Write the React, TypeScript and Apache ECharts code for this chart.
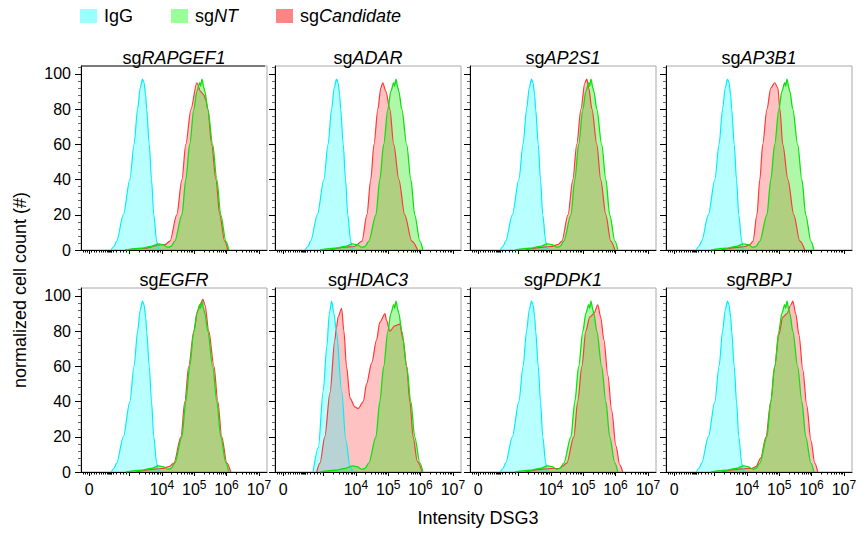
import React, { useEffect, useRef } from 'react';
import * as echarts from 'echarts';

const FONT = '"Liberation Sans", Arial, Helvetica, sans-serif';

// ---- text ----
const legendNames = ['IgG', 'sgNT', 'sgCandidate'];
const panelGenes = ['RAPGEF1', 'ADAR', 'AP2S1', 'AP3B1', 'EGFR', 'HDAC3', 'PDPK1', 'RBPJ'];
const yAxisName = 'normalized cell count (#)';
const xAxisName = 'Intensity DSG3';

// ---- axes (x in display units of the biexponential scale: 0 -> 1.75, 10^k -> k) ----
const xMin = 1.5;
const xMax = 7.25;
const xLabelValues = [1.75, 4, 5, 6, 7];
const xLabelTexts = ['0', '4', '5', '6', '7'];
const xMajorTicks = [1.75, 3, 4, 5, 6, 7];
const xLowTicks = [1.56, 1.63, 1.69, 1.82, 1.9, 1.98, 2.06, 2.13, 2.2, 2.26, 2.3, 2.33, 2.36, 2.39, 2.42, 2.45, 2.5, 2.6, 2.7, 2.8, 2.9];
const yTickValues = [0, 20, 40, 60, 80, 100];
const yMax = 104.5;

// ---- data: [display x, normalized count] ----
const iggShared = [[2.43,0],[2.52,2],[2.60,5],[2.81,20],[3.01,40],[3.14,60],[3.25,80],[3.33,92],[3.40,97],[3.45,95],[3.50,88],[3.53,80],[3.61,60],[3.68,40],[3.75,20],[3.84,5],[3.88,2],[3.92,0]];
const iggHDAC3 = [[2.68,0],[2.84,14],[2.99,46],[3.10,71],[3.18,90],[3.25,97],[3.32,90],[3.40,80],[3.56,46],[3.69,18],[3.82,3],[3.91,0]];
const sgNT = [[2.89,0],[3.35,1],[3.66,2],[3.91,3.5],[4.03,3],[4.19,1.5],[4.28,2],[4.40,5],[4.62,20],[4.74,40],[4.86,60],[4.99,80],[5.08,90],[5.17,95],[5.20,93],[5.24,97],[5.30,92],[5.33,90],[5.42,80],[5.57,60],[5.70,40],[5.82,20],[5.98,5],[6.07,0]];

const candRAPGEF1 = [[2.86,0],[3.51,1],[3.82,2.5],[3.97,3],[4.09,3],[4.25,5],[4.46,20],[4.62,40],[4.74,60],[4.90,80],[5.08,95],[5.20,90],[5.30,88],[5.36,85],[5.42,80],[5.54,60],[5.67,40],[5.79,20],[5.94,5],[6.04,0]];
const candADAR = [[3.20,0],[3.60,1.5],[3.95,2],[4.19,5],[4.34,20],[4.46,40],[4.56,60],[4.68,80],[4.77,92],[4.83,95],[4.93,90],[5.05,80],[5.17,60],[5.33,40],[5.51,20],[5.73,5],[5.91,0]];
const candAP2S1 = [[3.20,0],[3.70,1.5],[4.00,2],[4.22,3],[4.34,5],[4.53,20],[4.68,40],[4.80,60],[4.93,80],[5.05,95],[5.11,97],[5.17,92],[5.27,80],[5.42,60],[5.54,40],[5.70,20],[5.85,5],[5.98,0]];
const candAP3B1 = [[3.20,0],[3.70,1.5],[3.95,2],[4.09,3],[4.19,5],[4.31,20],[4.40,40],[4.49,60],[4.62,80],[4.74,92],[4.86,95],[4.96,92],[5.02,80],[5.11,60],[5.27,40],[5.45,20],[5.64,5],[5.79,0]];
const candEGFR = [[3.20,0],[3.70,1.5],[4.00,2],[4.22,3],[4.37,5],[4.59,20],[4.71,40],[4.83,60],[4.99,80],[5.11,92],[5.27,98],[5.33,95],[5.45,80],[5.61,60],[5.73,40],[5.85,20],[6.01,5],[6.13,0]];
const candHDAC3 = [[2.79,0],[2.89,5],[3.04,20],[3.20,45],[3.35,75],[3.40,82],[3.45,88],[3.56,93],[3.63,80],[3.71,60],[3.82,42],[3.97,37],[4.07,36],[4.23,40],[4.33,50],[4.49,62],[4.64,75],[4.74,85],[4.90,90],[4.95,86],[5.05,80],[5.20,83],[5.36,84],[5.46,75],[5.57,60],[5.67,40],[5.77,20],[5.90,6],[6.05,0]];
const candPDPK1 = [[3.20,0],[3.70,1.5],[4.00,2],[4.25,2],[4.34,3],[4.49,5],[4.71,20],[4.83,40],[4.96,60],[5.08,80],[5.20,88],[5.33,90],[5.45,95],[5.54,88],[5.64,75],[5.76,55],[5.88,35],[6.01,15],[6.13,4],[6.22,0]];
const candRBPJ = [[3.20,0],[3.70,1.5],[4.00,2],[4.15,2],[4.28,3],[4.43,8],[4.59,20],[4.74,40],[4.86,60],[4.99,78],[5.11,88],[5.24,90],[5.36,95],[5.42,97],[5.51,90],[5.61,78],[5.73,58],[5.85,38],[5.98,18],[6.10,5],[6.19,0]];

const candidateByPanel = [candRAPGEF1, candADAR, candAP2S1, candAP3B1, candEGFR, candHDAC3, candPDPK1, candRBPJ];
const iggByPanel = [iggShared, iggShared, iggShared, iggShared, iggShared, iggHDAC3, iggShared, iggShared];

// ---- layout / style ----
const panelLefts = [81, 275, 470, 666];
const rowTops = [66, 288];
const PW = 186;
const PH = 184;

const colors = {
  igg: { line: '#00F0F8', area: 'rgba(0,255,255,0.40)', legend: '#99FFFF' },
  nt: { line: '#10E010', area: 'rgba(20,235,0,0.48)', legend: '#99FF99' },
  cand: { line: '#FF3838', area: 'rgba(255,0,0,0.34)', legend: '#FF8585' },
};

function buildOption() {
  const xMinorTicks: number[] = [...xLowTicks];
  for (let k = 3; k <= 6; k++) {
    for (let m = 2; m <= 9; m++) xMinorTicks.push(k + Math.log10(m));
  }
  const yMinorTicks: number[] = [];
  for (let v = 0; v <= 104; v += 4) if (v % 20 !== 0) yMinorTicks.push(v);

  const grids: any[] = [];
  const xAxes: any[] = [];
  const yAxes: any[] = [];
  const series: any[] = [];
  const elements: any[] = [];

  panelGenes.forEach((gene, i) => {
    const row = Math.floor(i / 4);
    const col = i % 4;
    const L = panelLefts[col];
    const T = rowTops[row];
    grids.push({
      left: L, top: T, width: PW, height: PH,
      show: true, borderColor: '#a8a8a8', borderWidth: 1, backgroundColor: 'transparent',
      containLabel: false, outerBoundsMode: 'none',
    });
    xAxes.push({
      type: 'value', gridIndex: i, min: xMin, max: xMax, position: 'bottom',
      axisLine: { show: true, onZero: false, lineStyle: { color: '#000', width: 1 } },
      splitLine: { show: false },
      axisTick: { show: true, customValues: xMajorTicks, length: 4, lineStyle: { color: '#000', width: 1 } },
      axisLabel: {
        show: row === 1, customValues: xLabelValues, margin: 7,
        formatter: (v: number) => {
          const idx = xLabelValues.findIndex((t) => Math.abs(t - v) < 1e-6);
          if (idx === 0) return '{b|0}';
          return '{b|10}{s|' + xLabelTexts[idx] + '}';
        },
        rich: {
          b: { fontSize: 16, fontFamily: FONT, color: '#000', lineHeight: 21 },
          s: { fontSize: 12, fontFamily: FONT, color: '#000', lineHeight: 12, padding: [0, 0, 10, 0] },
        },
      },
    });
    xAxes.push({
      type: 'value', gridIndex: i, min: xMin, max: xMax, position: 'bottom',
      axisLine: { show: false }, splitLine: { show: false },
      axisTick: { show: true, customValues: xMinorTicks, length: 2.5, lineStyle: { color: '#000', width: 1 } },
      axisLabel: { show: false },
    });
    yAxes.push({
      type: 'value', gridIndex: i, min: 0, max: yMax, position: 'left',
      axisLine: { show: true, onZero: false, lineStyle: { color: '#000', width: 1 } },
      splitLine: { show: false },
      axisTick: { show: true, customValues: yTickValues, length: 6, lineStyle: { color: '#000', width: 1 } },
      axisLabel: { show: col === 0, customValues: yTickValues, fontSize: 16, fontFamily: FONT, color: '#000', margin: 10 },
    });
    yAxes.push({
      type: 'value', gridIndex: i, min: 0, max: yMax, position: 'left',
      axisLine: { show: false }, splitLine: { show: false },
      axisTick: { show: true, customValues: yMinorTicks, length: 3, lineStyle: { color: '#666', width: 1 } },
      axisLabel: { show: false },
    });

    const common = {
      type: 'line', xAxisIndex: 2 * i, yAxisIndex: 2 * i, smooth: 0.3, smoothMonotone: 'x',
      showSymbol: false, symbol: 'none', silent: true, emphasis: { disabled: true },
    };
    series.push({
      ...common, name: 'sgCandidate', data: candidateByPanel[i],
      lineStyle: { color: colors.cand.line, width: 1.2 }, areaStyle: { color: colors.cand.area },
      itemStyle: { color: colors.cand.legend },
    });
    series.push({
      ...common, name: 'IgG', data: iggByPanel[i],
      lineStyle: { color: colors.igg.line, width: 1.2 }, areaStyle: { color: colors.igg.area },
      itemStyle: { color: colors.igg.legend },
    });
    series.push({
      ...common, name: 'sgNT', data: sgNT,
      lineStyle: { color: colors.nt.line, width: 1.3 }, areaStyle: { color: colors.nt.area },
      itemStyle: { color: colors.nt.legend },
    });

    elements.push({
      type: 'text', x: L + PW / 2, y: T - 8, silent: true,
      style: {
        text: '{n|sg}{i|' + gene + '}',
        align: 'center', verticalAlign: 'middle', fill: '#000',
        rich: {
          n: { fontSize: 18, fontFamily: FONT, fill: '#000' },
          i: { fontSize: 18, fontFamily: FONT, fontStyle: 'italic', fill: '#000' },
        },
      },
    });
  });

  // darker top edge of the first panel
  elements.push({
    type: 'line', silent: true, z: 10,
    shape: { x1: panelLefts[0], y1: rowTops[0], x2: panelLefts[0] + PW - 2, y2: rowTops[0] },
    style: { stroke: '#222', lineWidth: 1 },
  });
  elements.push({
    type: 'text', x: 20, y: 290, rotation: Math.PI / 2, silent: true,
    style: { text: yAxisName, fontSize: 18, fontFamily: FONT, fill: '#000', align: 'center', verticalAlign: 'middle' },
  });
  elements.push({
    type: 'text', x: 478, y: 518, silent: true,
    style: { text: xAxisName, fontSize: 18, fontFamily: FONT, fill: '#000', align: 'center', verticalAlign: 'middle' },
  });

  const legendColors = [colors.igg.legend, colors.nt.legend, colors.cand.legend];

  return {
    animation: false,
    backgroundColor: '#ffffff',
    textStyle: { fontFamily: FONT },
    legend: {
      left: 80, top: 7, padding: 0, orient: 'horizontal', icon: 'rect', itemWidth: 17, itemHeight: 14, itemGap: 38,
      selectedMode: false,
      data: legendNames.map((n, k) => ({ name: n, itemStyle: { color: legendColors[k], borderWidth: 0 } })),
      formatter: (name: string) => {
        if (name.startsWith('sg')) return '{n|sg}{i|' + name.slice(2) + '}';
        return '{n|' + name + '}';
      },
      textStyle: {
        fontSize: 18, fontFamily: FONT, color: '#000', padding: [0, 0, 0, 2],
        rich: {
          n: { fontSize: 18, fontFamily: FONT, color: '#000' },
          i: { fontSize: 18, fontFamily: FONT, fontStyle: 'italic', color: '#000' },
        },
      },
    },
    grid: grids,
    xAxis: xAxes,
    yAxis: yAxes,
    series,
    graphic: { elements },
  };
}

export default function App() {
  const ref = useRef<HTMLDivElement>(null);
  useEffect(() => {
    document.body.style.margin = '0';
    if (!ref.current) return;
    const chart = echarts.init(ref.current, undefined, { renderer: 'svg' });
    chart.setOption(buildOption() as any);
    return () => chart.dispose();
  }, []);
  return <div ref={ref} style={{ width: 862, height: 537 }} />;
}
